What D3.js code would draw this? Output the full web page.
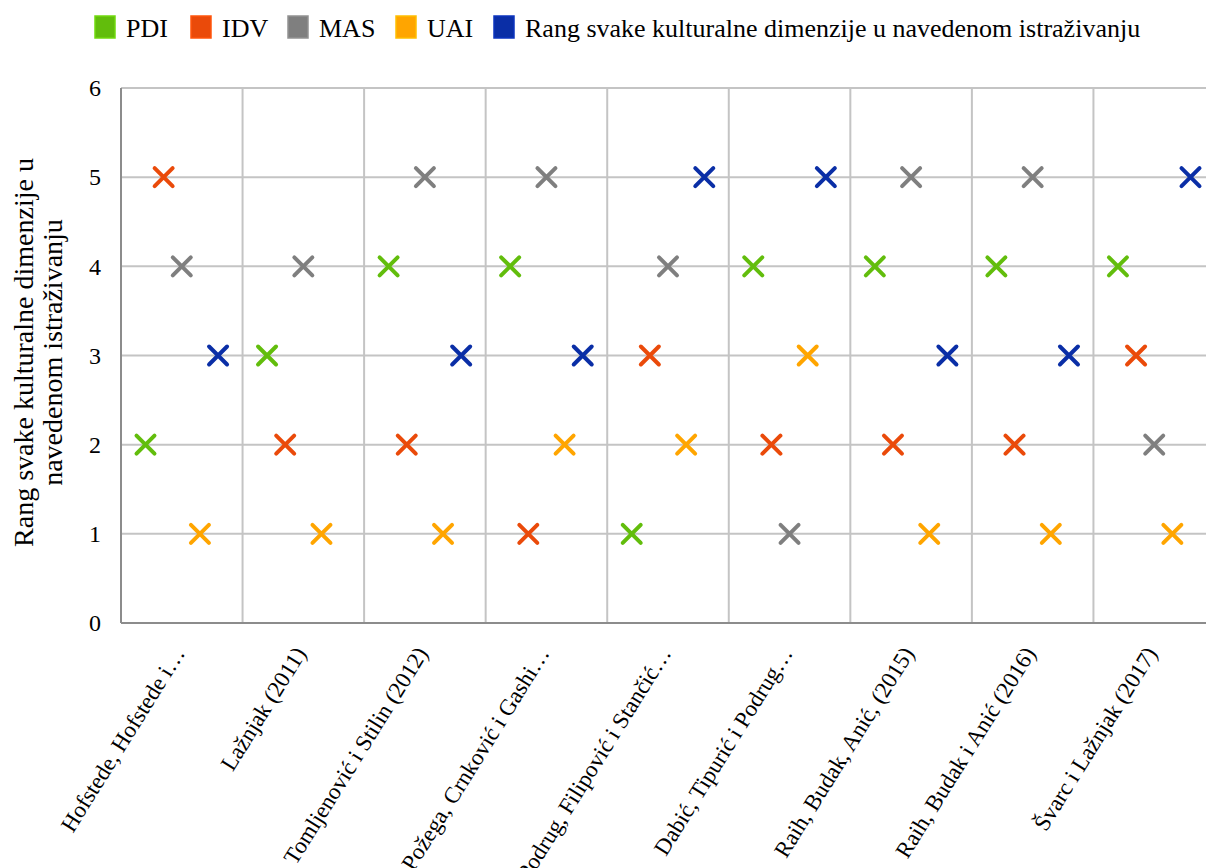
<!DOCTYPE html>
<html>
<head>
<meta charset="utf-8">
<script src="https://cdn.jsdelivr.net/npm/d3@7"></script>
<style>
  body { margin: 0; background: #fff; }
  text { font-family: "Liberation Serif", "Times New Roman", serif; fill: #000; }
</style>
</head>
<body>
<div id="chart"></div>
<script>
// categories (studies) on the x axis
var studies = [
  'Hofstede, Hofstede i…',
  'Lažnjak (2011)',
  'Tomljenović i Stilin (2012)',
  'Požega, Crnković i Gashi…',
  'Podrug, Filipović i Stančić…',
  'Dabić, Tipurić i Podrug…',
  'Raih, Budak, Anić, (2015)',
  'Raih, Budak i Anić (2016)',
  'Švarc i Lažnjak (2017)'
];

// ranks per dimension, one value per study (null = no point)
var pdi  = [2, 3, 4, 4, 1, 4, 4, 4, 4];
var idv  = [5, 2, 2, 1, 3, 2, 2, 2, 3];
var mas  = [4, 4, 5, 5, 4, 1, 5, 5, 2];
var uai  = [1, 1, 1, 2, 2, 3, 1, 1, 1];
var rang = [3, null, 3, 3, 5, 5, 3, 3, 5];

var seriesNames = ['PDI', 'IDV', 'MAS', 'UAI', 'Rang svake kulturalne dimenzije u navedenom istraživanju'];
var yTicks = [0, 1, 2, 3, 4, 5, 6];

var series = [
  { name: seriesNames[0], values: pdi,  color: '#62bd0c' },
  { name: seriesNames[1], values: idv,  color: '#ea4a0a' },
  { name: seriesNames[2], values: mas,  color: '#7f7f7f' },
  { name: seriesNames[3], values: uai,  color: '#ffa500' },
  { name: seriesNames[4], values: rang, color: '#0a2ea6' }
];

var W = 1206, H = 868;
var margin = {left: 121, top: 88, right: -9, bottom: 245};
var width = W - margin.left - margin.right,
    height = H - margin.top - margin.bottom;

var svg = d3.select('#chart').append('svg')
  .attr('width', W).attr('height', H);

var g = svg.append('g')
  .attr('transform', 'translate(' + margin.left + ',' + margin.top + ')');

// scales
var x = d3.scaleBand().domain(studies).range([0, width]).padding(0);
var xs = d3.scalePoint().domain(seriesNames).range([0, x.bandwidth()]).padding(1.35);
var y = d3.scaleLinear().domain([0, 6]).range([height, 0]);

// horizontal gridlines
g.append('g').selectAll('line').data(yTicks.slice(1)).enter().append('line')
  .attr('x1', 0).attr('x2', width)
  .attr('y1', function(d) { return y(d); }).attr('y2', function(d) { return y(d); })
  .attr('stroke', '#c4c4c4').attr('stroke-width', 2);

// vertical gridlines between categories
g.append('g').selectAll('line').data(studies.slice(1)).enter().append('line')
  .attr('x1', function(d) { return x(d); }).attr('x2', function(d) { return x(d); })
  .attr('y1', 0).attr('y2', height)
  .attr('stroke', '#c4c4c4').attr('stroke-width', 2);

// axis lines
g.append('line').attr('x1', 0).attr('x2', 0).attr('y1', 0).attr('y2', height)
  .attr('stroke', '#8c8c8c').attr('stroke-width', 2);
g.append('line').attr('x1', 0).attr('x2', width).attr('y1', height).attr('y2', height)
  .attr('stroke', '#8c8c8c').attr('stroke-width', 2);

// y axis labels
var yAxis = g.append('g')
  .call(d3.axisLeft(y).tickValues(yTicks).tickFormat(d3.format('d')).tickSize(0).tickPadding(20));
yAxis.select('.domain').remove();
yAxis.selectAll('text').style('font-family', '"Liberation Serif", serif')
  .style('font-size', '24px').attr('fill', '#000');

// x axis labels, rotated
var xAxis = g.append('g').attr('transform', 'translate(0,' + height + ')')
  .call(d3.axisBottom(x).tickSize(0).tickPadding(0));
xAxis.select('.domain').remove();
xAxis.selectAll('text')
  .style('font-family', '"Liberation Serif", serif')
  .style('font-size', '23px').attr('fill', '#000')
  .attr('text-anchor', 'end')
  .attr('dy', '0.35em')
  .attr('transform', 'translate(-3,26) rotate(-58)');

// y axis title
svg.append('text')
  .attr('transform', 'translate(33,' + (margin.top + height / 2 - 3) + ') rotate(-90)')
  .attr('text-anchor', 'middle')
  .style('font-size', '28px')
  .selectAll('tspan').data(['Rang svake kulturalne dimenzije u', 'navedenom istraživanju']).enter()
  .append('tspan').attr('x', 0).attr('dy', function(d, i) { return i === 0 ? '0em' : '1.05em'; })
  .text(function(d) { return d; });

// markers (x shape)
var r = 9;
series.forEach(function(s) {
  var pts = studies.map(function(st, i) { return {study: st, v: s.values[i]}; })
    .filter(function(d) { return d.v != null; });
  g.append('g').selectAll('path').data(pts).enter().append('path')
    .attr('transform', function(d) {
      return 'translate(' + (x(d.study) + xs(s.name)) + ',' + y(d.v) + ')';
    })
    .attr('d', 'M' + (-r) + ',' + (-r) + 'L' + r + ',' + r + 'M' + (-r) + ',' + r + 'L' + r + ',' + (-r))
    .attr('stroke', s.color).attr('stroke-width', 4).attr('stroke-linecap', 'round')
    .attr('fill', 'none');
});

// legend
var legendX = [95, 191, 288, 396, 494];
var legend = svg.append('g');
series.forEach(function(s, i) {
  var item = legend.append('g').attr('transform', 'translate(' + legendX[i] + ',16)');
  item.append('rect').attr('width', 20).attr('height', 22)
    .attr('fill', s.color).attr('stroke', d3.color(s.color).brighter(0.4)).attr('stroke-width', 1.5);
  item.append('text').attr('x', 31).attr('y', 21)
    .style('font-size', '26px').text(s.name);
});
</script>
</body>
</html>
